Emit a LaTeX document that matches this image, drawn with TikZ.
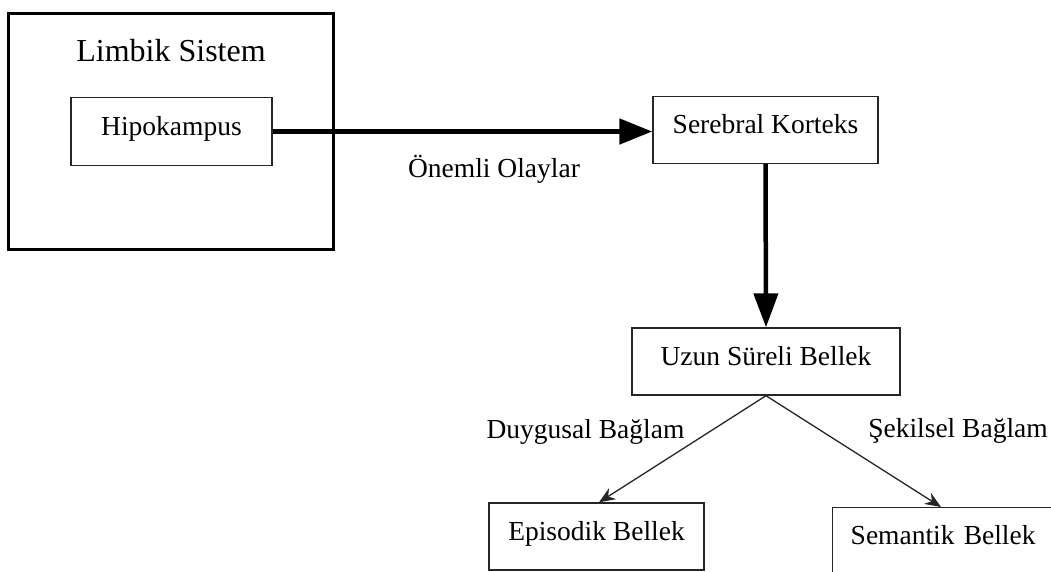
\documentclass[tikz,border=0pt]{standalone}
\usepackage{fontspec}
\setmainfont{Liberation Serif}
\usetikzlibrary{arrows.meta,positioning}
\begin{document}
\begin{tikzpicture}[x=1pt,y=-1pt,
  txt/.style={font=\fontsize{27.5}{33}\selectfont},
  box/.style={draw=black!85, line width=1.4pt, fill=white, txt,
    inner sep=0pt, text height=0.7em, text depth=0pt, align=center},
  lbl/.style={txt, inner sep=0pt, anchor=base},
  bigarrow/.style={line width=5pt, -{Triangle[length=33pt,width=25pt]}},
  thinarrow/.style={draw=black!85, line width=1.3pt, -{Stealth[length=16pt,width=13pt]}}]
\useasboundingbox (0,0) rectangle (1051,571);
\begin{scope}
\clip (0,0) rectangle (1051,571);
% Limbic system frame
\node[draw=black, line width=3pt, minimum width=325pt, minimum height=236pt, inner sep=0pt] (limb) at (170.5,131) {};
\node[lbl, font=\fontsize{32}{38}\selectfont] (limbt) at (171,61) {Limbik Sistem};
% boxes
\node[box, minimum width=201pt, minimum height=68pt] (hipo) at (171.5,131.5) {Hipokampus};
\node[box, minimum width=225pt, minimum height=67pt] (ser) at (765.5,130) {Serebral Korteks};
\node[box, minimum width=268pt, minimum height=67pt] (uzun) at (766,361.5) {Uzun Süreli Bellek};
\node[box, minimum width=215pt, minimum height=67pt] (epi) at (596.5,536.5) {Episodik Bellek};
\node[box, anchor=north west, minimum height=67pt, text width=264pt, inner xsep=18pt, align=left] (sem) at (832,507) {Semantik Bellek};
% connectors
\draw[bigarrow] (hipo.east) -- (hipo.east -| ser.west);
\draw[line width=4.5pt, -{Triangle[length=34pt,width=24pt]}] (ser.south) -- (uzun.north);
\draw[thinarrow] (uzun.south) -- ([xshift=2.5pt]epi.north);
\draw[thinarrow] (uzun.south) -- ([xshift=109pt]sem.north west);
% labels
\node[lbl] (onem) at (494,177) {Önemli Olaylar};
\node[lbl] (duyg) at (585.5,438) {Duygusal Bağlam};
\node[lbl] (sekl) at (958,437) {Şekilsel Bağlam};
\end{scope}
\end{tikzpicture}
\end{document}
